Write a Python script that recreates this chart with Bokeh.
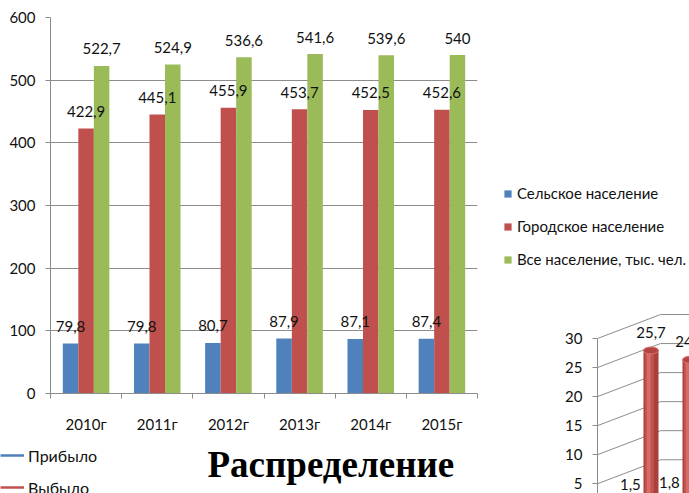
from bokeh.plotting import figure
from bokeh.models import (ColumnDataSource, Range1d, FixedTicker, Legend, LegendItem, Label)
from bokeh.layouts import row, column
from bokeh.transform import dodge
from bokeh.core.properties import value
from bokeh.embed import file_html
from bokeh.resources import INLINE

# ---------------- data ----------------
years = ["2010г", "2011г", "2012г", "2013г", "2014г", "2015г"]
rural = [79.8, 79.8, 80.7, 87.9, 87.1, 87.4]
urban = [422.9, 445.1, 455.9, 453.7, 452.5, 452.6]
total = [522.7, 524.9, 536.6, 541.6, 539.6, 540.0]
series_names = ["Сельское население", "Городское население", "Все население, тыс. чел."]
y_ticks = [0, 100, 200, 300, 400, 500, 600]

mig_cats = [0, 1]
arrived = [1.5, 1.8]
departed = [25.7, 24.1]
mig_names = ["Прибыло", "Выбыло"]
mig_ticks = [0, 5, 10, 15, 20, 25, 30]
title_text = "Распределение"

# ---------------- style ----------------
BLUE, RED, GREEN = "#4F81BD", "#C0504D", "#9BBB59"
GRID = "#8C8C8C"
TXT = "#111111"
FONT = "Lato"


def fmt(v):
    return ("%g" % v).replace(".", ",")


def blank(fig):
    fig.outline_line_color = None
    fig.background_fill_color = "white"
    fig.border_fill_color = "white"


n = len(years)
centers = [i + 0.5 for i in range(n)]
bounds_ticks = list(range(n + 1))
bw = 0.218
offsets = [-bw, 0.0, bw]
colors = [BLUE, RED, GREEN]

# ---------------- main bar chart ----------------
LW, TH = 485, 440
FL, FT, FR, FB = 50, 17, 477, 393          # frame edges in pixels
p = figure(width=LW, height=TH, x_range=Range1d(0, n), y_range=Range1d(0, 600),
           output_backend="svg", toolbar_location=None,
           min_border_left=FL, min_border_top=FT, min_border_right=LW - FR,
           min_border_bottom=TH - FB)
blank(p)
p.xgrid.visible = False
p.ygrid.ticker = FixedTicker(ticks=y_ticks)
p.ygrid.grid_line_color = GRID

yax = p.yaxis[0]
yax.ticker = FixedTicker(ticks=y_ticks)
yax.major_tick_in = 0
yax.major_tick_out = 5
yax.minor_tick_line_color = None
yax.axis_line_color = GRID
yax.major_tick_line_color = GRID
yax.major_label_standoff = 10
yax.major_label_text_font = FONT
yax.major_label_text_font_size = "15px"
yax.major_label_text_color = TXT

xax = p.xaxis[0]
xax.ticker = FixedTicker(ticks=centers, minor_ticks=bounds_ticks)
xax.major_label_overrides = {c: y for c, y in zip(centers, years)}
xax.axis_line_color = GRID
xax.major_tick_line_color = None
xax.major_tick_in = 0
xax.major_tick_out = 0
xax.minor_tick_in = 0
xax.minor_tick_out = 5
xax.minor_tick_line_color = GRID
xax.major_label_standoff = 16
xax.major_label_text_font = FONT
xax.major_label_text_font_size = "15px"
xax.major_label_text_color = TXT

sources = []
for vals, off, col in zip([rural, urban, total], offsets, colors):
    src = ColumnDataSource(dict(x=centers, top=vals, label=[fmt(v) for v in vals]))
    sources.append((src, off))
    p.vbar(x=dodge("x", off), top="top", bottom=0, width=bw,
           source=src, fill_color=col, line_color=None)
for src, off in sources:
    p.text(x=dodge("x", off), y="top", text="label", source=src,
           text_align="center", text_baseline="middle", y_offset=-17,
           text_font=value(FONT), text_font_size="15px", text_color=TXT)

# ---------------- bottom strip: migration legend + heading ----------------
BH = 493 - TH
bf = figure(width=LW, height=BH, x_range=Range1d(0, LW), y_range=Range1d(-BH, 0),
            output_backend="svg", toolbar_location=None,
            x_axis_location=None, y_axis_location=None, min_border=0)
blank(bf)
bf.grid.grid_line_color = None
# renderers for the legend (their data lies outside this strip's view)
lr1 = bf.line(x=mig_cats, y=arrived, line_color=BLUE, line_width=2.5)
lr2 = bf.line(x=mig_cats, y=departed, line_color=RED, line_width=2.5)
leg2 = Legend(items=[LegendItem(label=mig_names[0], renderers=[lr1]),
                     LegendItem(label=mig_names[1], renderers=[lr2])],
              location=(0, -3.5), orientation="vertical", glyph_width=24,
              glyph_height=14, label_standoff=4, spacing=13, padding=0, margin=0,
              border_line_color=None, background_fill_alpha=0, label_text_font=FONT,
              label_text_font_size="16px", label_height=14, label_text_color=TXT)
bf.add_layout(leg2)
bf.add_layout(Label(x=207, y=-(464 - TH), text=title_text,
                    text_font="Liberation Serif", text_font_style="bold",
                    text_font_size="37px", text_color="#000000", text_baseline="alphabetic"))

# ---------------- right top: legend of the bar chart ----------------
RW, LH = 204, 300
lf = figure(width=RW, height=LH, x_range=Range1d(-2, -1), y_range=Range1d(0, 1),
            output_backend="svg", toolbar_location=None,
            x_axis_location=None, y_axis_location=None, min_border=0)
blank(lf)
lf.grid.grid_line_color = None
lrs = [lf.vbar(x=centers, top=vals, width=bw, fill_color=c, line_color=None)
       for vals, c in zip([rural, urban, total], colors)]
leg = Legend(items=[LegendItem(label=nm, renderers=[r]) for nm, r in zip(series_names, lrs)],
             location=(503 - 485, LH - 268), orientation="vertical", glyph_width=9,
             glyph_height=9, label_standoff=5, spacing=15, padding=0, margin=0,
             border_line_color=None, background_fill_alpha=0, label_text_font=FONT,
             label_text_font_size="15px", label_height=9, label_text_color=TXT)
lf.add_layout(leg)

# ---------------- right bottom: 3D cylinder chart fragment ----------------
DH = 493 - LH
px_unit = 5.81          # pixels per unit on the 3D value axis
cat_px = 39.0           # pixels between categories
zero_y = 512.3 - LH     # pixel row of value 0 inside this figure (below the visible area)
d3 = figure(width=RW, height=DH,
            x_range=Range1d(-1.372, -1.372 + (RW - 112) / cat_px),
            y_range=Range1d((zero_y - DH) / px_unit, zero_y / px_unit),
            output_backend="svg", toolbar_location=None, x_axis_location=None,
            min_border_left=112, min_border_top=0, min_border_right=0, min_border_bottom=0)
blank(d3)
d3.grid.grid_line_color = None
ax3 = d3.yaxis[0]
ax3.ticker = FixedTicker(ticks=mig_ticks)
ax3.bounds = (0, 30)
ax3.major_tick_in = 0
ax3.major_tick_out = 5
ax3.minor_tick_line_color = None
ax3.axis_line_color = GRID
ax3.major_tick_line_color = GRID
ax3.major_label_standoff = 10
ax3.major_label_text_font = FONT
ax3.major_label_text_font_size = "15px"
ax3.major_label_text_color = TXT

depth_back = 13 / px_unit
wall_dy = 24 / px_unit
x_left = d3.x_range.start
wall_x = x_left + 63 / cat_px
x_right = d3.x_range.end + 1
gt = mig_ticks[1:]
d3.segment(x0=[x_left] * len(gt), y0=gt, x1=[wall_x] * len(gt), y1=[t + wall_dy for t in gt],
           line_color=GRID, line_width=1)
d3.segment(x0=[wall_x] * len(gt), y0=[t + wall_dy for t in gt], x1=[x_right] * len(gt),
           y1=[t + wall_dy for t in gt], line_color=GRID, line_width=1)

d3.extra_y_ranges = {"back": Range1d(d3.y_range.start - depth_back, d3.y_range.end - depth_back)}
cw = 0.385
src_f = ColumnDataSource(dict(x=mig_cats, top=arrived, label=[fmt(v) for v in arrived]))
d3.vbar(x=dodge("x", -0.53), top="top", bottom=0, width=cw, source=src_f,
        fill_color=BLUE, line_color=None)

src_b = ColumnDataSource(dict(x=mig_cats, top=departed, label=[fmt(v) for v in departed]))
d3.vbar(x="x", top="top", bottom=0, width=cw, source=src_b, y_range_name="back",
        fill_color="#A8403D", line_color=None)
d3.vbar(x=dodge("x", -0.04), top="top", bottom=0, width=cw * 0.6, source=src_b,
        y_range_name="back", fill_color="#C4514D", line_color=None)
d3.vbar(x=dodge("x", -0.06), top="top", bottom=0, width=cw * 0.25, source=src_b,
        y_range_name="back", fill_color="#D66C68", line_color=None)
d3.ellipse(x="x", y="top", width=cw, height=7, height_units="screen", source=src_b,
           y_range_name="back", fill_color="#B4443F", line_color="#D87571", line_width=1)
d3.text(x="x", y="top", text="label", source=src_b, y_range_name="back",
        text_align="center", text_baseline="middle", y_offset=-18,
        text_font=value(FONT), text_font_size="15px", text_color=TXT)
d3.text(x=dodge("x", -0.53), y="top", text="label", source=src_f,
        text_align="center", text_baseline="middle", y_offset=-20,
        text_font=value(FONT), text_font_size="15px", text_color=TXT)

left = column(row(p), row(bf))
right = column(row(lf), row(d3))
layout = row(left, right)
open("out.html", "w").write(file_html(layout, INLINE))
